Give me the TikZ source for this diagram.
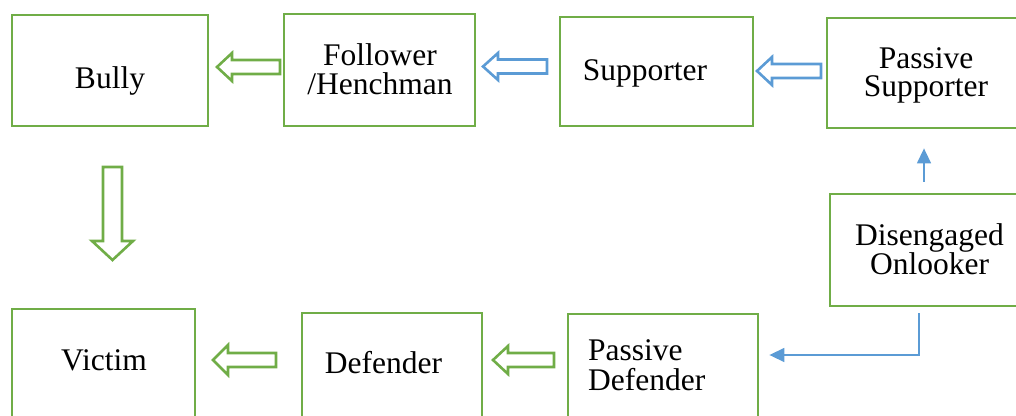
\documentclass[tikz,border=0pt]{standalone}
\usepackage{fontspec}
\setmainfont{Liberation Serif}
\usetikzlibrary{arrows.meta}
\definecolor{grn}{HTML}{70AD47}
\definecolor{blu}{HTML}{5B9BD5}
\begin{document}
\begin{tikzpicture}[x=1pt,y=-1pt,
  box/.style={draw=grn, line width=2.8pt, inner sep=0pt, fill=none},
  lbl/.style={anchor=base, inner sep=0pt, font=\fontsize{31.5}{27}\selectfont},
  gblock/.style={draw=grn, line width=2.6pt, line join=miter},
  bblock/.style={draw=blu, line width=2.6pt, line join=miter},
  conn/.style={draw=blu, line width=1.5pt, -{Triangle[length=15pt,width=14pt]}}]
\useasboundingbox (0,0) rectangle (1016,415);
\clip (0,0) rectangle (1016,415);
% boxes
\node[box, minimum width=196pt, minimum height=111pt] (bully) at (110,70.5) {};
\node[box, minimum width=191pt, minimum height=112pt] (follower) at (379.5,70) {};
\node[box, minimum width=193pt, minimum height=109pt] (supp) at (656.5,71.5) {};
\node[box, minimum width=210pt, minimum height=110pt] (psupp) at (932,73) {};
\node[box, minimum width=205pt, minimum height=112pt] (onlooker) at (932.5,250) {};
\node[box, minimum width=183pt, minimum height=120pt] (victim) at (103.5,369) {};
\node[box, minimum width=180pt, minimum height=116pt] (defender) at (392,371) {};
\node[box, minimum width=190pt, minimum height=115pt] (pdef) at (663,371.5) {};
% texts
\node[lbl] (bullyt) at (110,88) {Bully};
\node[lbl] (followert) at (380,65) {\begin{tabular}[t]{@{}c@{}}Follower\\/Henchman\end{tabular}};
\node[lbl] (suppt) at (645,80) {Supporter};
\node[lbl] (psuppt) at (926,68) {\begin{tabular}[t]{@{}c@{}}Passive\\Supporter\end{tabular}};
\node[lbl] (onlookert) at (929.5,245) {\begin{tabular}[t]{@{}c@{}}Disengaged\\Onlooker\end{tabular}};
\node[lbl] (victimt) at (104,370) {Victim};
\node[lbl] (defendert) at (383.5,373) {Defender};
\node[lbl, anchor=base west] (pdeft) at (588,360) {\begin{tabular}[t]{@{}l@{}}Passive\\Defender\end{tabular}};
% block arrows
\draw[gblock] (217,67) -- (232,53) -- (232,60) -- (280,60) -- (280,74) -- (232,74) -- (232,81) -- cycle;
\draw[bblock] (483,66.5) -- (498,53) -- (498,59.5) -- (547,59.5) -- (547,73.5) -- (498,73.5) -- (498,80) -- cycle;
\draw[bblock] (757,71) -- (772,57) -- (772,64) -- (821,64) -- (821,78) -- (772,78) -- (772,85) -- cycle;
\draw[gblock] (112.5,260) -- (92,241) -- (103,241) -- (103,167) -- (122,167) -- (122,241) -- (133,241) -- cycle;
\draw[gblock] (213,360) -- (228,345) -- (228,353) -- (276,353) -- (276,367) -- (228,367) -- (228,375) -- cycle;
\draw[gblock] (493,360) -- (508,346) -- (508,353) -- (554,353) -- (554,367) -- (508,367) -- (508,374) -- cycle;
% thin connectors
\coordinate (upx) at (924,0);
\coordinate (dnx) at (919,355);
\draw[conn, shorten <=11pt, shorten >=19pt] (onlooker.north -| upx) -- (psupp.south -| upx);
\draw[conn, shorten <=6pt, shorten >=10pt] (onlooker.south -| dnx) |- (pdef.east |- dnx);
\end{tikzpicture}
\end{document}
